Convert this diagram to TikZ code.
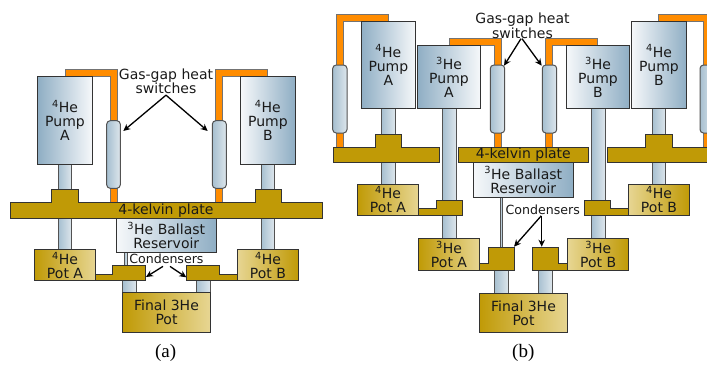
\documentclass[tikz,border=0pt]{standalone}
\usepackage{fontspec}
\setmainfont{DejaVu Sans}
\newfontfamily\capfont{Liberation Serif}
\usetikzlibrary{arrows.meta,calc}
\definecolor{gold}{HTML}{C09A06}
\definecolor{goldlt}{HTML}{E7D693}
\definecolor{steel}{HTML}{8FAEC4}
\definecolor{steelb}{HTML}{A6BFD0}
\definecolor{icewhite}{HTML}{F6F8FA}
\definecolor{stemlt}{HTML}{DDE6EC}
\definecolor{orng}{HTML}{FF8C00}
\definecolor{edge}{HTML}{333333}
\tikzset{
  part/.style={draw=edge,line width=1pt,inner sep=0pt,outer sep=0pt,align=center,text=black!90,
    font=\fontsize{14}{14}\selectfont},
  pumpL/.style={part,left color=steel,right color=icewhite},
  pumpR/.style={part,left color=icewhite,right color=steel},
  stem/.style={part,draw=edge!85,left color=steelb,right color=stemlt},
  swtch/.style={part,draw=edge!85,rounded corners=3.5pt,left color=steelb,right color=stemlt},
  potL/.style={part,left color=gold,right color=goldlt},
  potR/.style={part,left color=goldlt,right color=gold},
  plate/.style={part,fill=gold},
  condshape/.style={draw=edge,line width=1pt,fill=gold,line join=miter},
  tube/.style={draw=black!55,line width=.8pt,fill=orng},
  lbl/.style={inner sep=0pt,outer sep=0pt,align=center,text=black!90,font=\fontsize{14}{14.5}\selectfont},
  lblc/.style={inner sep=0pt,outer sep=0pt,text=black!90,font=\fontsize{12.6}{14}\selectfont},
  captext/.style={inner sep=0pt,outer sep=0pt,font=\capfont\fontsize{19}{20}\selectfont},
  arr/.style={-{Stealth[length=7pt,width=6.5pt]},line width=1.3pt,draw=black}
}
\newcommand{\bx}[7]{%
  \pgfmathsetmacro{\bw}{#4-#2}\pgfmathsetmacro{\bh}{#5-#3}%
  \pgfmathsetmacro{\bcx}{(#2+#4)/2}\pgfmathsetmacro{\bcy}{(#3+#5)/2}%
  \node[#6,minimum width=\bw pt,minimum height=\bh pt] (#1) at (\bcx,\bcy) {#7};}
\newcommand{\hefour}{\textsuperscript{4}He}
\newcommand{\hethree}{\textsuperscript{3}He}
\begin{document}
\begin{tikzpicture}[x=1pt,y=-1pt]
\useasboundingbox (0,0) rectangle (707,365);
% ---------- panel (a) ----------
\draw[tube] (65,76.7)--(65,69.7)--(117,69.7)--(117,202.5)--(110,202.5)--(110,76.7)--cycle;
\draw[tube] (267.7,76.7)--(267.7,69.7)--(215.7,69.7)--(215.7,202.5)--(222.7,202.5)--(222.7,76.7)--cycle;
\bx{aStemA}{58.3}{164}{71.7}{250}{stem}{}
\bx{aStemB}{261}{164}{274.3}{250}{stem}{}
\bx{aCapil}{124}{252}{127.3}{266}{stem}{}
\bx{aStemF1}{122.7}{280}{136}{293}{stem}{}
\bx{aStemF2}{196}{280}{210}{293}{stem}{}
\bx{aPumpA}{37.7}{76.7}{92.3}{164.3}{pumpL}{\hefour\\Pump\\A}
\bx{aPumpB}{240.7}{76.7}{295}{164.3}{pumpR}{\hefour\\Pump\\B}
\bx{aSwA}{106.7}{120.7}{120.3}{188.3}{swtch}{}
\bx{aSwB}{212.3}{120.7}{226.3}{188.3}{swtch}{}
\draw[condshape] (10.3,202.5)--(51.7,202.5)--(51.7,189.5)--(78,189.5)--(78,202.5)--(255,202.5)--(255,189.5)--(281,189.5)--(281,202.5)--(322,202.5)--(322,218.2)--(10.3,218.2)--cycle;
\node[lbl] (aPlate) at (166,210.5) {4-kelvin plate};
\bx{aBallast}{116.3}{218.2}{216.3}{252.7}{pumpR}{\hethree\ Ballast\\Reservoir}
\bx{aPotA}{34.3}{249.5}{95.7}{280.8}{potL}{\hefour\\Pot A}
\bx{aPotB}{237.3}{249.5}{298.7}{280.8}{potR}{\hefour\\Pot B}
\bx{aFinal}{122.7}{292.7}{210.3}{332.7}{potL}{Final 3He\\Pot}
\draw[condshape] (95.7,274.3)--(112.7,274.3)--(112.7,265.5)--(145.7,265.5)--(145.7,280.8)--(95.7,280.8)--cycle;
\draw[condshape] (186.3,265.5)--(219.3,265.5)--(219.3,274.3)--(237.3,274.3)--(237.3,280.8)--(186.3,280.8)--cycle;
\coordinate (aCondL) at (146,277);
\coordinate (aCondR) at (186.3,277.3);
\node[lbl] (aGas) at (166,81.5) {Gas-gap heat\\switches};
\node[lblc] (aCond) at (166.4,259) {Condensers};
\draw[arr] ($(aGas.south)+(0,1)$) -- ($(aSwA.east)+(3,-23.5)$);
\draw[arr] ($(aGas.south)+(0,1)$) -- ($(aSwB.west)+(-4.6,-23.5)$);
\draw[arr] ($(aCond.south)+(-3.4,2.5)$) -- (aCondL);
\draw[arr] ($(aCond.south)+(3.6,2.5)$) -- (aCondR);
\node[captext] (capA) at (165.7,353) {(a)};
% ---------- panel (b) ----------
\draw[tube] (388.3,21.3)--(388.3,14.5)--(336.3,14.5)--(336.3,147.5)--(343.3,147.5)--(343.3,21.3)--cycle;
\draw[tube] (449.3,45.3)--(449.3,38.5)--(501,38.5)--(501,147.5)--(494,147.5)--(494,45.3)--cycle;
\draw[tube] (597.7,45.3)--(597.7,38.5)--(545.7,38.5)--(545.7,147.5)--(552.7,147.5)--(552.7,45.3)--cycle;
\draw[tube] (658.7,21.3)--(658.7,14.5)--(710.7,14.5)--(710.7,147.5)--(703.7,147.5)--(703.7,21.3)--cycle;
\bx{bStem4A}{381.3}{108.7}{395.3}{184}{stem}{}
\bx{bStem3A}{442.3}{108.7}{456}{239}{stem}{}
\bx{bStem3B}{591.5}{108.7}{605}{239}{stem}{}
\bx{bStem4B}{652}{108.7}{665.7}{184}{stem}{}
\bx{bCapil}{500}{197}{502.7}{248}{stem}{}
\bx{bStemF1}{494.3}{270}{508.3}{293}{stem}{}
\bx{bStemF2}{538}{270}{552}{293}{stem}{}
\bx{bPump4A}{361}{21.3}{415.7}{108.7}{pumpL}{\hefour\\Pump\\A}
\bx{bPump3A}{417.3}{45.3}{480.7}{108.7}{pumpL}{\hethree\\Pump\\A}
\bx{bPump3B}{566.3}{45.3}{629.7}{108.7}{pumpR}{\hethree\\Pump\\B}
\bx{bPump4B}{631.3}{21.3}{686.7}{108.7}{pumpR}{\hefour\\Pump\\B}
\bx{bSw1}{332.7}{65}{347}{133}{swtch}{}
\bx{bSw2}{490.3}{65}{504.7}{133}{swtch}{}
\bx{bSw3}{542.3}{65}{556.7}{133}{swtch}{}
\bx{bSw4}{700}{65}{714.3}{133}{swtch}{}
\draw[condshape] (333.3,147.3)--(375,147.3)--(375,134.5)--(401.3,134.5)--(401.3,147.3)--(439.7,147.3)--(439.7,162.7)--(333.3,162.7)--cycle;
\bx{bPlate}{458.3}{147.3}{588.3}{162.7}{plate}{4-kelvin plate}
\draw[condshape] (712,147.3)--(672.7,147.3)--(672.7,134.5)--(645.7,134.5)--(645.7,147.3)--(607.3,147.3)--(607.3,162.7)--(712,162.7)--cycle;
\bx{bBallast}{473.3}{162.7}{573.3}{197.3}{pumpR}{\hethree\ Ballast\\Reservoir}
\bx{bPot4A}{357.3}{184}{418.7}{215}{potL}{\hefour\\Pot A}
\bx{bPot4B}{628.3}{184}{689.7}{215}{potR}{\hefour\\Pot B}
\bx{bPot3A}{418.3}{238.7}{479.7}{270}{potL}{\hethree\\Pot A}
\bx{bPot3B}{567.7}{238.7}{628.7}{270}{potR}{\hethree\\Pot B}
\bx{bFinal}{479.3}{293}{567.7}{332.7}{potL}{Final 3He\\Pot}
\draw[condshape] (418.7,208.3)--(436,208.3)--(436,200)--(462,200)--(462,215)--(418.7,215)--cycle;
\draw[condshape] (584.3,200)--(610.3,200)--(610.3,208.3)--(628.3,208.3)--(628.3,215)--(584.3,215)--cycle;
\draw[condshape] (479.7,263.3)--(488.3,263.3)--(488.3,247.7)--(514.3,247.7)--(514.3,270)--(479.7,270)--cycle;
\draw[condshape] (532.7,247.7)--(558.7,247.7)--(558.7,263.3)--(567.7,263.3)--(567.7,270)--(532.7,270)--cycle;
\coordinate (bCondL) at (514,246.7);
\coordinate (bCondR) at (541.7,246.7);
\node[lbl] (bGas) at (522.5,26) {Gas-gap heat\\switches};
\node[lblc] (bCond) at (542.7,209.5) {Condensers};
\draw[arr] ($(bGas.south)+(-1.5,0)$) -- ($(bSw2.east)+(-.7,-33.3)$);
\draw[arr] ($(bGas.south)+(-.5,0)$) -- ($(bSw3.west)+(-.6,-33.3)$);
\draw[arr] ($(bCond.south)+(-1.5,1.5)$) -- (bCondL);
\draw[arr] ($(bCond.south)+(-1,1.5)$) -- (bCondR);
\node[captext] (capB) at (523.3,353) {(b)};
\end{tikzpicture}
\end{document}
